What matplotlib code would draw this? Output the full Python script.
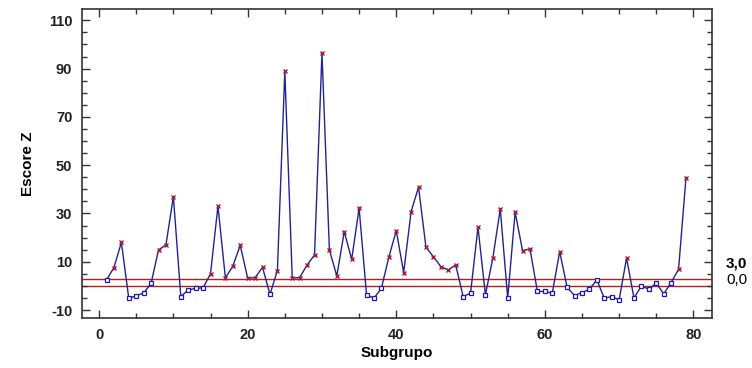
import matplotlib.pyplot as plt
import numpy as np
from matplotlib.ticker import MultipleLocator

plt.rcParams['axes.unicode_minus'] = False

# escore Z por subgrupo
subgrupo = np.arange(1, 80)
escore = [2.5, 7.6, 18.0, -5.2, -4.0, -3.0, 1.1, 14.9, 17.0, 37.0,
          -4.4, -1.7, -1.0, -0.8, 5.0, 33.1, 3.3, 8.2, 16.8, 3.2,
          3.4, 7.7, -3.5, 6.3, 89.0, 3.3, 3.4, 8.7, 12.8, 96.5,
          14.9, 4.1, 22.5, 11.0, 32.2, -3.7, -5.1, -1.0, 11.9, 22.9,
          5.5, 30.8, 40.9, 16.0, 12.1, 8.0, 6.6, 8.7, -4.4, -3.0,
          24.3, -3.7, 11.5, 31.9, -5.1, 30.5, 14.6, 15.3, -2.3, -2.3,
          -3.0, 14.2, -0.6, -4.0, -2.8, -1.4, 2.5, -5.1, -4.4, -5.8,
          11.5, -5.1, 0.0, -1.4, 1.1, -3.3, 1.4, 6.9, 44.9]
limite = 3.0
centro = 0.0

escore = np.array(escore)
acima = escore > limite

fig = plt.figure(figsize=(7.52, 3.68), dpi=100)
ax = fig.add_axes([82/752, 1-318/368, 630/752, 309/368])

ax.axhline(limite, color='#b02020', lw=1.0, zorder=1)
ax.axhline(centro, color='#b02020', lw=1.0, zorder=1)

ax.plot(subgrupo, escore, color='#23238f', lw=1.0, zorder=2)
ax.plot(subgrupo[~acima], escore[~acima], 's', ms=3.5, mfc='white',
        mec='#1a1ab0', mew=0.9, zorder=3)
ax.plot(subgrupo[acima], escore[acima], 'x', ms=3.5, color='#b01838',
        mew=1.0, zorder=3)

ax.set_xlim(-2.3, 82.5)
ax.set_ylim(-13.3, 114.7)
ax.xaxis.set_major_locator(MultipleLocator(20))
ax.xaxis.set_minor_locator(MultipleLocator(5))
ax.set_yticks(np.arange(-10, 111, 20))
ax.yaxis.set_minor_locator(MultipleLocator(5))
ax.tick_params(which='both', direction='in', top=True, right=True,
               color='#333333', width=1.0)
ax.tick_params(which='major', length=6, labelsize=10.5, pad=7)
ax.tick_params(which='minor', length=3.5)
for s in ax.spines.values():
    s.set_color('#333333')
    s.set_linewidth(1.2)

fonte = ['Liberation Sans Narrow', 'Liberation Sans', 'DejaVu Sans']
for lab in ax.get_xticklabels() + ax.get_yticklabels():
    lab.set_family(fonte)
    lab.set_fontweight('bold')
    lab.set_color('#222222')

ax.set_xlabel('Subgrupo', family=fonte, fontweight='bold', fontsize=11, labelpad=3)
ax.set_ylabel('Escore Z', family=fonte, fontweight='bold', fontsize=11, labelpad=10)

ax.annotate('3,0', xy=(1.0, limite), xycoords=('axes fraction', 'data'),
            xytext=(10, 11), textcoords='offset points', va='center',
            family=fonte, fontweight='bold', fontsize=11)
ax.annotate('0,0', xy=(1.0, centro), xycoords=('axes fraction', 'data'),
            xytext=(10, 4), textcoords='offset points', va='center',
            family=fonte, fontsize=11)

plt.savefig('out.png', dpi=100)
